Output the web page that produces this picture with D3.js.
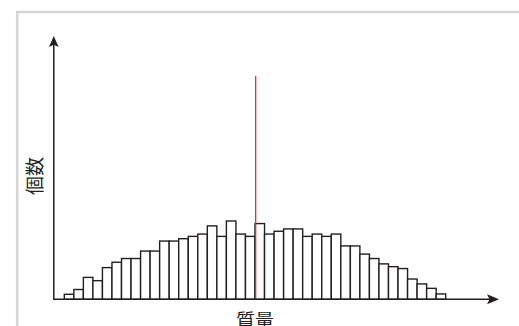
<!DOCTYPE html>
<html>
<head>
<meta charset="utf-8">
<script src="https://cdn.jsdelivr.net/npm/d3@7/dist/d3.min.js"></script>
<style>
  html, body { margin: 0; padding: 0; background: #fff; }
  svg { display: block; }
</style>
</head>
<body>
<script>
// ---- data ----
const bins = d3.range(40); // bin index 0..39
const counts = [2.15, 4.2, 9.4, 8.0, 13.6, 15.9, 17.5, 17.5, 20.7, 20.7,
                25.0, 25.0, 26.0, 27.0, 28.0, 31.5, 27.0, 33.6, 28.0, 27.0,
                32.5, 28.0, 29.2, 30.2, 30.2, 27.0, 28.0, 27.0, 28.0, 22.9,
                22.9, 19.4, 17.5, 15.2, 14.0, 13.2, 8.7, 6.6, 4.7, 2.3];
const meanBin = 20.07;       // position of the red reference line (in bins)
const meanLineTop = 95.8;    // height of red line (count units)
const yAxisMax = 113;        // axis arrow tip (count units)
const xLabel = "質量";
const yLabel = "個数";

const W = 519, H = 326;
const svg = d3.select("body").append("svg").attr("width", W).attr("height", H);

// frame
svg.append("line").attr("x1", 16).attr("x2", W).attr("y1", 12).attr("y2", 12)
  .attr("stroke", "#d5d5d5").attr("stroke-width", 2.5);
svg.append("line").attr("x1", 17.2).attr("x2", 17.2).attr("y1", 11).attr("y2", H)
  .attr("stroke", "#d5d5d5").attr("stroke-width", 2.5);

const x = d3.scaleLinear().domain([0, 40]).range([64.3, 445.7]);
const y = d3.scaleLinear().domain([0, yAxisMax]).range([299.3, 36]);
const ink = "#231f20";

// bars
svg.append("g").selectAll("rect").data(bins).join("rect")
  .attr("x", i => x(i))
  .attr("width", i => x(i + 1) - x(i))
  .attr("y", i => y(counts[i]))
  .attr("height", i => y(0) - y(counts[i]))
  .attr("fill", "#fff")
  .attr("stroke", ink)
  .attr("stroke-width", 1.4);

// red line
svg.append("line")
  .attr("x1", x(meanBin)).attr("x2", x(meanBin))
  .attr("y1", y(meanLineTop)).attr("y2", y(0))
  .attr("stroke", "#e0302a").attr("stroke-width", 1.3);

// axes
const x0 = 53.8;
svg.append("line").attr("x1", x0).attr("x2", 490).attr("y1", y(0)).attr("y2", y(0))
  .attr("stroke", ink).attr("stroke-width", 1.5);
svg.append("line").attr("x1", x0).attr("x2", x0).attr("y1", y(0) + 0.7).attr("y2", 44)
  .attr("stroke", ink).attr("stroke-width", 1.5);

// arrowheads
const tipX = 499, ay = y(0);
svg.append("path")
  .attr("d", `M${tipX},${ay} L${tipX - 12},${ay - 5} L${tipX - 9.5},${ay} L${tipX - 12},${ay + 5} Z`)
  .attr("fill", ink);
const tipY = y(yAxisMax);
svg.append("path")
  .attr("d", `M${x0},${tipY} L${x0 - 4.8},${tipY + 11} L${x0},${tipY + 8.8} L${x0 + 4.8},${tipY + 11} Z`)
  .attr("fill", ink);

// labels
svg.append("text")
  .attr("transform", "translate(33.5,176) rotate(-90)")
  .attr("text-anchor", "middle")
  .attr("dominant-baseline", "central")
  .attr("font-family", "'Noto Sans CJK JP', sans-serif")
  .attr("font-size", 19)
  .attr("fill", ink)
  .text(yLabel);

svg.append("text")
  .attr("x", 255).attr("y", 328)
  .attr("text-anchor", "middle")
  .attr("font-family", "'Noto Sans CJK JP', sans-serif")
  .attr("font-size", 19)
  .attr("fill", ink)
  .text(xLabel);
</script>
</body>
</html>
